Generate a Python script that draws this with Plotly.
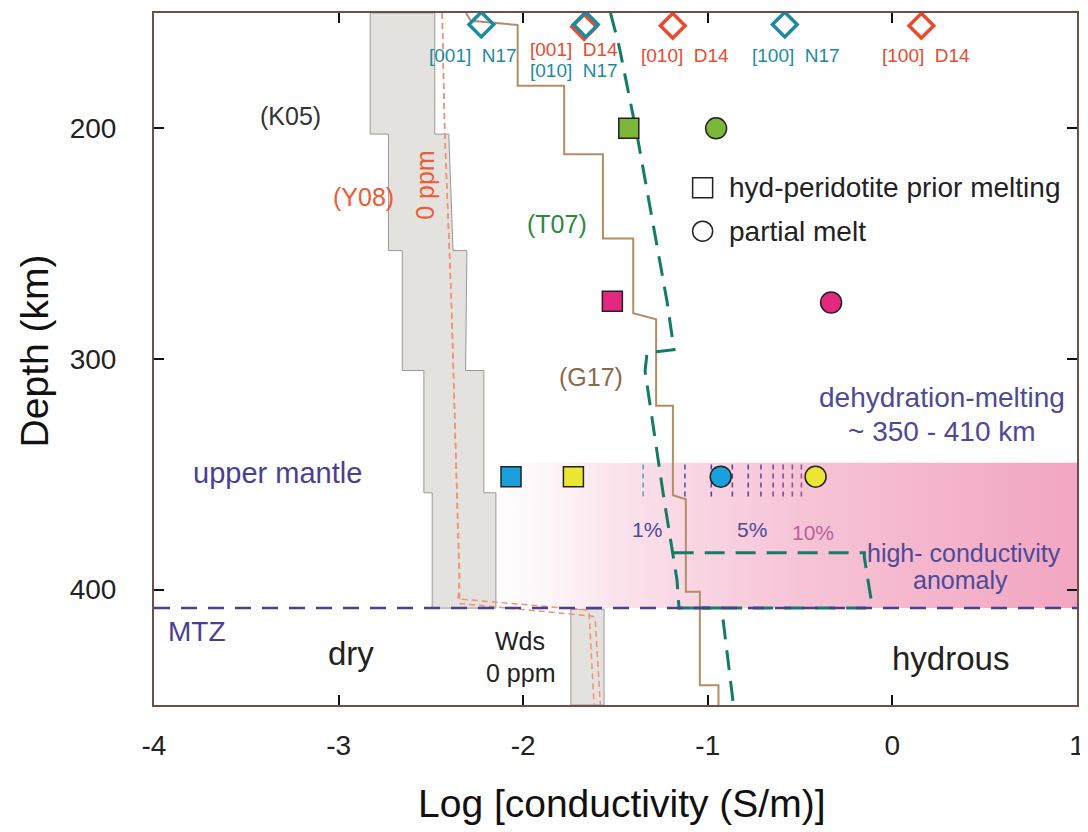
import plotly.graph_objects as go

# ---------------- data ----------------
# K05 dry olivine band (upper mantle), step edges
k05_depth = [150, 202.5, 202.5, 253, 253, 305, 305, 358, 358, 408]
k05_left = [-2.829, -2.829, -2.730, -2.730, -2.655, -2.655, -2.538, -2.538, -2.493, -2.493]
k05_right = [-2.479, -2.479, -2.403, -2.380, -2.305, -2.312, -2.213, -2.213, -2.148, -2.148]
# Wadsleyite 0 ppm band (MTZ)
wds_depth = [408.5, 450]
wds_left = -1.742
wds_right = -1.562

# Y08 (0 ppm) dashed lines
y08a_x = [-2.439, -2.425, -2.389, -2.344, -2.353, -1.652, -1.643, -1.616]
y08a_d = [150, 202, 275, 396, 404, 408.8, 410, 450]
y08b_x = [-2.439, -2.425, -2.389, -2.344, -2.343, -1.622, -1.610, -1.582]
y08b_d = [150, 202, 275, 396, 406, 411.5, 413, 450]

# G17 step profile
g17_x = [-2.31, -2.283, -2.03, -2.03, -1.778, -1.778, -1.568, -1.568, -1.404, -1.404,
         -1.280, -1.280, -1.189, -1.189, -1.119, -1.119, -1.043, -1.043, -0.942, -0.942]
g17_d = [150, 153.4, 155.2, 181.5, 181.5, 211.2, 211.2, 247.8, 247.8, 280.2,
         282.8, 320.3, 320.3, 359.1, 360.8, 400.9, 400.9, 441.4, 441.4, 450]

# T07 profile
t07_x = [-1.527, -1.481, -1.383, -1.221, -1.183, -1.329, -1.340, -1.239, -1.167, -1.156, -0.925, -0.861]
t07_d = [150, 164.2, 203, 275, 296.0, 297.3, 305.2, 359.8, 395.7, 408, 408, 450]

# high-conductivity anomaly outline
hca_x = [-1.185, -0.152, -0.152, -0.116, -0.140, -1.160]
hca_d = [384, 384, 386, 404, 408, 408]

# MTZ boundary depth
mtz_depth = 408

# dehydration-melting band
band_depth = [345, 408]
band_x = [-2.35, 1.0]

# melt-fraction ticks 1%..10%
melt_pct = [1, 2, 3, 4, 5, 6, 7, 8, 9, 10]
melt_x = [-1.350, -1.124, -0.981, -0.867, -0.781, -0.712, -0.646, -0.592, -0.542, -0.493]
melt_d = [345.7, 360.8]

# hyd-peridotite prior melting (squares) and partial melt (circles)
sq_x = [-1.428, -1.517, -2.066, -1.728]
sq_d = [200, 275, 351, 351]
ci_x = [-0.955, -0.332, -0.930, -0.416]
ci_d = [200, 275.5, 351, 351]
pt_colors = ["#7bb83a", "#e4277f", "#1aa0db", "#ebe631"]

# single-crystal anisotropy diamonds
n17_x = [-2.227, -1.661, -0.583]
n17_d = [155, 155, 155]
d14_x = [-1.670, -1.190, 0.157]
d14_d = [156, 155.5, 155.5]

# axis ticks
x_ticks = [-4, -3, -2, -1, 0, 1]
x_ticklabels = ["-4", "-3", "-2", "-1", "0", "1"]
y_ticks = [200, 300, 400]

# ---------------- styles ----------------
TEAL = "#1b8ba4"
RED = "#ec4a2e"
SALMON = "#f29272"
INDIGO = "#4a3f94"
SLATE = "#4d4a98"
FONT = "Liberation Sans, Arial, sans-serif"

fig = go.Figure()

# pink gradient band
fig.add_trace(go.Scatter(
    x=[band_x[0], band_x[1], band_x[1], band_x[0], band_x[0]],
    y=[band_depth[0], band_depth[0], band_depth[1], band_depth[1], band_depth[0]],
    mode="lines", line=dict(width=0), fill="toself",
    fillgradient=dict(type="horizontal",
                      colorscale=[[0, "rgba(255,255,255,0)"], [0.25, "#fbe3ec"],
                                  [0.55, "#f7c4d7"], [1, "#f2a5c1"]]),
    hoverinfo="skip", showlegend=False))

# K05 gray band
fig.add_trace(go.Scatter(
    x=k05_left + k05_right[::-1] + [k05_left[0]],
    y=k05_depth + k05_depth[::-1] + [k05_depth[0]],
    mode="lines", line=dict(color="#9b9894", width=1), fill="toself",
    fillcolor="#e4e2df", hoverinfo="skip", showlegend=False))
fig.add_trace(go.Scatter(
    x=[wds_left, wds_right, wds_right, wds_left, wds_left],
    y=[wds_depth[0], wds_depth[0], wds_depth[1], wds_depth[1], wds_depth[0]],
    mode="lines", line=dict(color="#9b9894", width=1), fill="toself",
    fillcolor="#e4e2df", hoverinfo="skip", showlegend=False))

# Y08 dashed lines
for xs, ds in [(y08a_x, y08a_d), (y08b_x, y08b_d)]:
    fig.add_trace(go.Scatter(x=xs, y=ds, mode="lines",
                             line=dict(color=SALMON, width=1.5, dash="6px,4px"),
                             hoverinfo="skip", showlegend=False))

# G17
fig.add_trace(go.Scatter(x=g17_x, y=g17_d, mode="lines",
                         line=dict(color="#b48d64", width=2),
                         hoverinfo="skip", showlegend=False))

# T07
fig.add_trace(go.Scatter(x=t07_x, y=t07_d, mode="lines",
                         line=dict(color="#137c68", width=3, dash="20px,11px"),
                         hoverinfo="skip", showlegend=False))
# anomaly outline
fig.add_trace(go.Scatter(x=hca_x, y=hca_d, mode="lines",
                         line=dict(color="#137c68", width=3, dash="20px,11px"),
                         hoverinfo="skip", showlegend=False))

# MTZ line
fig.add_trace(go.Scatter(x=[-4, 1], y=[mtz_depth, mtz_depth], mode="lines",
                         line=dict(color=INDIGO, width=2.5, dash="16px,11px"),
                         hoverinfo="skip", showlegend=False))

# melt fraction ticks
tick_colors = ["#5aa3c9", "#4d57a8", "#4d4aa0", "#5a4a9e", "#64499c",
               "#6e4a9c", "#7a4c9c", "#864e9c", "#914f9a", "#9c5098"]
for xv, c in zip(melt_x, tick_colors):
    fig.add_trace(go.Scatter(x=[xv, xv], y=melt_d, mode="lines",
                             line=dict(color=c, width=1.6, dash="5px,4px"),
                             hoverinfo="skip", showlegend=False))

# squares and circles
fig.add_trace(go.Scatter(x=sq_x, y=sq_d, mode="markers",
                         marker=dict(symbol="square", size=20, color=pt_colors,
                                     line=dict(color="#222222", width=1.5)),
                         hoverinfo="skip", showlegend=False))
fig.add_trace(go.Scatter(x=ci_x, y=ci_d, mode="markers",
                         marker=dict(symbol="circle", size=21, color=pt_colors,
                                     line=dict(color="#222222", width=1.5)),
                         hoverinfo="skip", showlegend=False))

# diamonds
fig.add_trace(go.Scatter(x=d14_x, y=d14_d, mode="markers",
                         marker=dict(symbol="diamond-open", size=19, color=RED,
                                     line=dict(color=RED, width=3.5)),
                         hoverinfo="skip", showlegend=False))
fig.add_trace(go.Scatter(x=n17_x, y=n17_d, mode="markers",
                         marker=dict(symbol="diamond-open", size=19, color=TEAL,
                                     line=dict(color=TEAL, width=3.5)),
                         hoverinfo="skip", showlegend=False))

# legend symbols
fig.add_trace(go.Scatter(x=[-1.028, -1.028], y=[225.8, 244.6], mode="markers",
                         marker=dict(symbol=["square-open", "circle-open"], size=20,
                                     color="#222222", line=dict(color="#222222", width=1.5)),
                         hoverinfo="skip", showlegend=False))

# ---------------- annotations ----------------
def txt(x, y, s, color, size, **kw):
    fig.add_annotation(x=x, y=y, text=s, showarrow=False, xref="x", yref="y",
                       xanchor=kw.pop("xanchor", "center"), yanchor="middle",
                       font=dict(color=color, size=size, family=FONT), **kw)

txt(-2.27, 168.5, "[001]  N17", TEAL, 19)
txt(-1.724, 166.0, "[001]  D14", RED, 19)
txt(-1.724, 174.8, "[010]  N17", TEAL, 19)
txt(-1.124, 168.6, "[010]  D14", RED, 19)
txt(-0.520, 168.6, "[100]  N17", TEAL, 19)
txt(0.180, 168.6, "[100]  D14", RED, 19)

txt(-3.259, 194.5, "(K05)", "#333333", 25)
txt(-2.864, 229.9, "(Y08)", "#f05a32", 25)
txt(-2.529, 224.7, "0 ppm", "#f05a32", 25, textangle=-90)
txt(-1.819, 241.3, "(T07)", "#2a8a40", 25)
txt(-1.635, 307.9, "(G17)", "#8c6a48", 25)

txt(-0.897, 225.8, "hyd-peridotite prior melting", "#222222", 28, xanchor="left")
txt(-0.897, 244.6, "partial melt", "#222222", 28, xanchor="left")

txt(-3.33, 349.6, "upper mantle", INDIGO, 29)
txt(0.27, 316.5, "dehydration-melting", SLATE, 28)
txt(0.27, 331.6, "~ 350 - 410 km", SLATE, 28)
txt(-1.332, 374, "1%", SLATE, 21)
txt(-0.758, 374, "5%", SLATE, 21)
txt(-0.428, 375, "10%", "#b9609a", 21)
txt(0.39, 384, "high- conductivity", SLATE, 25)
txt(0.367, 395.6, "anomaly", SLATE, 25)

txt(-3.767, 418.2, "MTZ", INDIGO, 28)
txt(-2.935, 427.6, "dry", "#222222", 33)
txt(-2.016, 422.2, "Wds", "#222222", 25)
txt(-2.016, 436.2, "0 ppm", "#222222", 25)
txt(0.315, 429.8, "hydrous", "#222222", 33)

# axis titles
fig.add_annotation(x=0.506, y=-0.142, xref="paper", yref="paper", showarrow=False,
                   xanchor="center", yanchor="middle",
                   text="Log [conductivity (S/m)]",
                   font=dict(size=39, color="#111111", family=FONT))
fig.add_annotation(x=-0.130, y=0.511, xref="paper", yref="paper", showarrow=False,
                   xanchor="center", yanchor="middle",
                   text="Depth (km)", textangle=-90,
                   font=dict(size=39, color="#111111", family=FONT))

axis_common = dict(showgrid=False, zeroline=False, showline=True, linecolor="#6e5046",
                   linewidth=2, mirror="ticks", ticks="inside", ticklen=10,
                   tickwidth=2, tickcolor="#111111", ticklabeloverflow="allow",
                   tickfont=dict(size=28, color="#222222", family=FONT))

fig.update_layout(
    width=1080, height=824,
    margin=dict(l=146, r=6, t=3, b=127),
    paper_bgcolor="white", plot_bgcolor="white",
    font=dict(family=FONT),
    xaxis=dict(range=[-4, 1], tickvals=x_ticks, ticktext=x_ticklabels,
               ticklabelstandoff=14, **axis_common),
    yaxis=dict(range=[450, 150], tickvals=y_ticks, ticklabelstandoff=30,
               **axis_common),
)

fig.write_html("out.html")
